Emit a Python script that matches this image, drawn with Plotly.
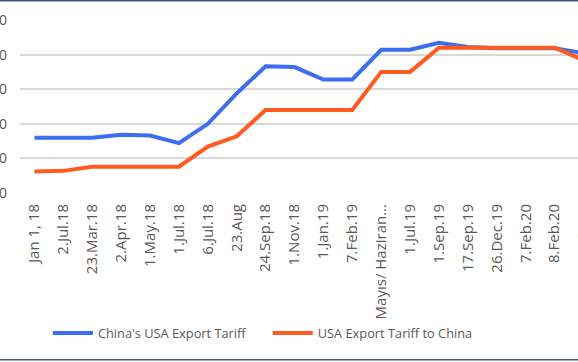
import plotly.graph_objects as go

categories = ["Jan 1, 18", "2.Jul.18", "23.Mar.18", "2.Apr.18", "1.May.18", "1.Jul.18",
              "6.Jul.18", "23.Aug", "24.Sep.18", "1.Nov.18", "1.Jan.19", "7.Feb.19",
              "Mayıs/ Haziran...", "1.Jul.19", "1.Sep.19", "17.Sep.19", "26.Dec.19",
              "7.Feb.20", "8.Feb.20", "14.Feb.20"]
china_tariff = [8.0, 8.0, 8.0, 8.4, 8.3, 7.2, 10.0, 14.4, 18.3, 18.2, 16.4, 16.4,
                20.7, 20.7, 21.7, 21.1, 20.9, 20.9, 20.9, 20.2]
usa_tariff = [3.1, 3.2, 3.8, 3.8, 3.8, 3.8, 6.7, 8.2, 12.0, 12.0, 12.0, 12.0,
              17.5, 17.5, 21.0, 21.0, 21.0, 21.0, 21.0, 19.2]
y_ticks = [0, 5, 10, 15, 20, 25]

BLUE = "#3D6DF2"
ORANGE = "#FF5A1F"
GREY = "#595959"

fig = go.Figure()
fig.add_trace(go.Scatter(x=categories, y=china_tariff, mode="lines",
                         name="China's USA Export Tariff", legend="legend",
                         line=dict(color=BLUE, width=4)))
fig.add_trace(go.Scatter(x=categories, y=usa_tariff, mode="lines",
                         name="USA Export Tariff to China", legend="legend2",
                         line=dict(color=ORANGE, width=4)))

r0, r1 = -0.5, 18.81
last = len(categories) - 1
fig.add_annotation(xref="paper", yref="paper",
                   x=(last - r0) / (r1 - r0), y=-0.065,
                   text=categories[-1], textangle=-90, showarrow=False,
                   xanchor="center", yanchor="top",
                   font=dict(family="Open Sans", size=15, color=GREY))

# chart-area frame lines (top and bottom)
for yy in (1.1112, -0.9637):
    fig.add_shape(type="line", xref="paper", yref="paper", x0=-0.1, x1=1.1,
                  y0=yy, y1=yy, line=dict(color="#44548A", width=1.5))

legend_style = dict(orientation="h", xanchor="left", y=-0.81, yanchor="middle",
                    font=dict(size=12.8, color=GREY), itemwidth=40,
                    bgcolor="rgba(0,0,0,0)")

fig.update_layout(
    width=578, height=362,
    margin=dict(l=20, r=0, t=20, b=168.5, autoexpand=False),
    paper_bgcolor="white", plot_bgcolor="white",
    font=dict(family="Open Sans", color=GREY),
    showlegend=True,
    legend=dict(x=0.05, **legend_style),
    legend2=dict(x=0.444, **legend_style),
    xaxis=dict(type="category", range=[r0, r1], tickangle=-90, automargin=False,
               tickfont=dict(family="Open Sans", size=15, color=GREY),
               showgrid=False, showline=False, ticks="", zeroline=False,
               ticklabelstandoff=7),
    yaxis=dict(range=[0, 25], tickvals=y_ticks, tickformat=".1f", automargin=False,
               tickfont=dict(family="Open Sans", size=14, color=GREY),
               showgrid=True, gridcolor="#D9D9D9", gridwidth=1.5,
               zeroline=False, showline=False, ticks="", ticklabelstandoff=12),
)

fig.write_html("out.html", config={"displayModeBar": False},
               post_script="document.body.style.margin='0';document.body.style.overflow='hidden';")
